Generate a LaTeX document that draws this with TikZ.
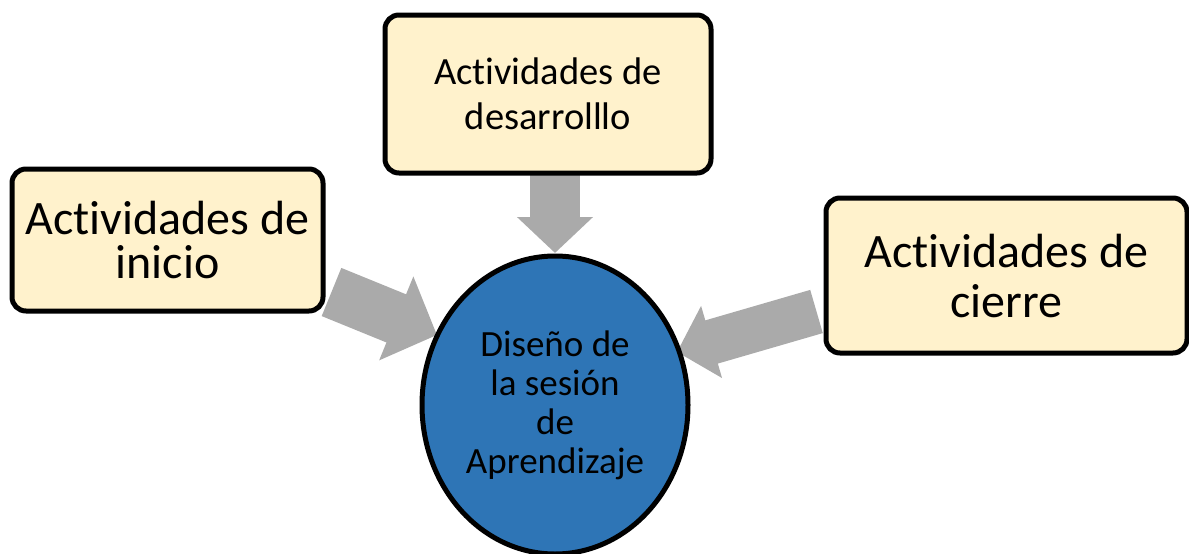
\documentclass[tikz,border=0pt]{standalone}
\usepackage{fontspec}
\setmainfont{Carlito}[Ligatures=NoCommon]
\usetikzlibrary{arrows.meta,shapes.geometric}
\definecolor{boxfill}{HTML}{FFF2CC}
\definecolor{ellfill}{HTML}{2E75B6}
\definecolor{arrowgray}{HTML}{AAAAAA}
\begin{document}
\begin{tikzpicture}[x=1pt,y=-1pt,
  actbox/.style={draw=black, line width=5pt, fill=boxfill, rounded corners=14pt,
    align=center, inner sep=0pt},
  fatarrow/.style={draw=arrowgray, line width=#1, line cap=butt},
]
\useasboundingbox (0,0) rectangle (1189,554);
% coordinates for arrow ends
\coordinate (ltail) at (331.5,292);
\coordinate (ltip) at (437,335);
\coordinate (ttail) at (555,170);
\coordinate (ttip) at (555,253);
\coordinate (rtail) at (816.5,311.5);
\coordinate (rtip) at (677,352);
% arrows
\draw[fatarrow=52pt, -{Triangle[length=44pt,width=88pt]}, arrowgray] (ltail) -- (ltip);
\draw[fatarrow=50pt, -{Triangle[length=36pt,width=74pt]}, arrowgray] (ttail) -- (ttip);
\draw[fatarrow=45pt, -{Triangle[length=36pt,width=73pt]}, arrowgray] (rtail) -- (rtip);
% boxes
\node[actbox, minimum width=311pt, minimum height=142pt,
  font=\fontsize{48}{44}\selectfont] (inicio) at (167.5,240)
  {Actividades de\\inicio};
\node[actbox, minimum width=326pt, minimum height=158pt,
  font=\fontsize{38.5}{45}\selectfont] (desarrollo) at (548,94)
  {Actividades de\\desarrolllo};
\node[actbox, minimum width=361pt, minimum height=155pt,
  font=\fontsize{48}{50}\selectfont] (cierre) at (1006.5,275.5)
  {Actividades de\\cierre};
% ellipse
\node[ellipse, draw=black, line width=5pt, fill=ellfill, inner sep=0pt,
  minimum width=266pt, minimum height=298pt, align=center,
  font=\fontsize{37}{39}\selectfont] (diseno) at (555,405)
  {Diseño de\\la sesión\\de\\Aprendizaje};
\end{tikzpicture}
\end{document}
